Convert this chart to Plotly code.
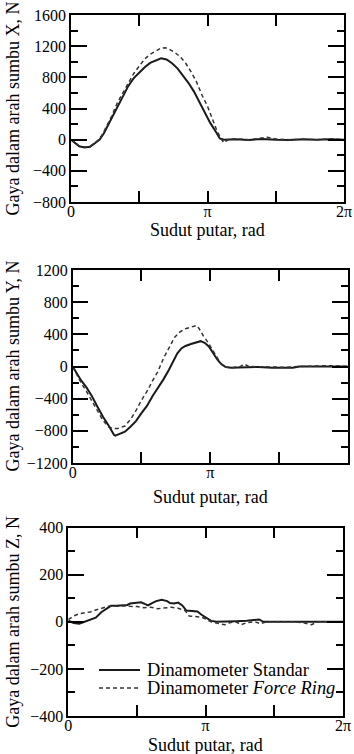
import numpy as np
import plotly.graph_objects as go

PI = np.pi

# ---------- data (theta in units of pi, force in N) ----------
x_std_t = [0, 0.03, 0.06, 0.10, 0.14, 0.18, 0.21, 0.24, 0.27, 0.30, 0.34, 0.38, 0.42, 0.46, 0.50,
           0.54, 0.58, 0.62, 0.66, 0.70, 0.74, 0.78, 0.82, 0.86, 0.90, 0.94, 0.98, 1.02, 1.06,
           1.09, 1.12, 1.2, 1.3, 1.4, 1.5, 1.6, 1.7, 1.8, 1.9, 2.0]
x_std_v = [0, -40, -85, -100, -90, -40, 0, 80, 180, 280, 430, 545, 690, 790, 860,
           930, 985, 1015, 1045, 1030, 980, 915, 830, 730, 620, 480, 335, 215, 105,
           15, 0, 5, -5, 10, 0, -5, 5, 0, 5, 0]

x_fr_t = [0, 0.03, 0.06, 0.10, 0.14, 0.18, 0.21, 0.24, 0.27, 0.30, 0.34, 0.38, 0.42, 0.46, 0.50,
          0.54, 0.58, 0.62, 0.66, 0.69, 0.72, 0.76, 0.80, 0.84, 0.88, 0.92, 0.96, 1.00, 1.04,
          1.07, 1.10, 1.12, 1.15, 1.2, 1.3, 1.4, 1.44, 1.5, 1.6, 1.7, 1.8, 1.9, 2.0]
x_fr_v = [0, -40, -80, -95, -85, -35, 10, 100, 200, 310, 475, 600, 730, 850, 945,
          1035, 1095, 1140, 1175, 1180, 1160, 1120, 1065, 980, 870, 740, 570, 430, 240,
          110, 10, -40, 0, 10, 0, 20, 30, 10, 0, 5, 0, 10, 0]

y_std_t = [0, 0.03, 0.06, 0.10, 0.14, 0.18, 0.22, 0.26, 0.30, 0.31, 0.34, 0.38, 0.42, 0.46, 0.50,
           0.54, 0.58, 0.62, 0.66, 0.70, 0.73, 0.76, 0.79, 0.82, 0.86, 0.90, 0.93, 0.96, 0.99,
           1.02, 1.05, 1.08, 1.11, 1.15, 1.25, 1.35, 1.45, 1.55, 1.6, 1.65, 1.75, 1.85, 1.95, 2.0]
y_std_v = [0, -90, -170, -260, -370, -500, -625, -730, -850, -860, -840, -810, -750, -680, -580,
           -490, -370, -270, -160, -40, 60, 160, 225, 255, 280, 305, 315, 295, 250,
           170, 90, 30, -5, -15, -10, -5, -15, -20, -15, 0, 0, 5, 0, 0]

y_fr_t = [0, 0.03, 0.06, 0.10, 0.14, 0.18, 0.22, 0.26, 0.29, 0.33, 0.38, 0.42, 0.46, 0.50, 0.54,
          0.58, 0.62, 0.66, 0.70, 0.74, 0.78, 0.82, 0.86, 0.90, 0.92, 0.95, 0.98, 1.02, 1.05,
          1.08, 1.11, 1.16, 1.22, 1.25, 1.28, 1.35, 1.45, 1.55, 1.65, 1.75, 1.85, 1.95, 2.0]
y_fr_v = [0, -100, -200, -310, -430, -560, -670, -750, -770, -770, -740, -660, -550, -420, -310,
          -180, -60, 100, 230, 360, 430, 470, 490, 510, 470, 380, 310, 200, 110,
          30, -10, -15, 0, 30, 0, -5, -10, -10, 0, 5, 10, 5, 0]

z_std_t = [0, 0.04, 0.08, 0.12, 0.16, 0.20, 0.24, 0.28, 0.31, 0.35, 0.39, 0.43, 0.45, 0.50, 0.53,
           0.56, 0.58, 0.61, 0.64, 0.68, 0.72, 0.74, 0.77, 0.80, 0.83, 0.86, 0.90, 0.94, 0.97,
           1.00, 1.04, 1.08, 1.15, 1.22, 1.30, 1.36, 1.39, 1.42, 1.5, 1.6, 1.7, 1.8, 1.9, 2.0]
z_std_v = [5, -5, -8, 0, 8, 18, 41, 58, 68, 68, 71, 72, 78, 80, 83,
           75, 70, 80, 88, 94, 88, 80, 78, 82, 70, 48, 45, 44, 30,
           18, 4, 0, 0, 3, 5, 10, 10, 0, 0, 0, 0, 2, 0, 0]

z_fr_t = [0, 0.04, 0.08, 0.12, 0.16, 0.20, 0.25, 0.29, 0.35, 0.40, 0.45, 0.50, 0.55, 0.60, 0.65,
          0.70, 0.75, 0.80, 0.85, 0.88, 0.92, 0.97, 1.00, 1.04, 1.10, 1.14, 1.18, 1.22, 1.26,
          1.30, 1.36, 1.40, 1.44, 1.55, 1.65, 1.72, 1.77, 1.82, 1.9, 2.0]
z_fr_v = [10, 25, 35, 38, 42, 50, 60, 66, 66, 68, 66, 65, 60, 62, 56,
          60, 62, 58, 48, 25, 22, 20, 12, 0, -8, -12, -3, 0, -12,
          -3, 0, -8, 0, 0, 0, -5, -12, 0, 0, 0]

x_tick_vals = [0, 0.5, 1.0, 1.5, 2.0]
x_tick_text = ["0", "", "π", "", "2π"]
y_titles = ["Gaya dalam arah sumbu X, N", "Gaya dalam arah sumbu Y, N", "Gaya dalam arah sumbu Z, N"]
y_ranges = [[-800, 1600], [-1200, 1200], [-400, 400]]
y_dticks = [400, 400, 200]
x_title = "Sudut putar, rad"
legend_names = ["Dinamometer Standar", "Dinamometer <i>Force Ring</i>"]

# ---------- layout geometry ----------
W, H = 354, 754
FONT = "Liberation Serif, Times New Roman, Times, DejaVu Serif, serif"
boxes = [  # left, right, top, bottom in px
    (71, 344, 15, 202),
    (72.7, 347.7, 270, 463),
    (68.3, 343, 527.7, 716),
]
xtitle_y = [230, 497, 745]


def px_x(v):
    return v / W


def px_y(v):
    return 1 - v / H


STD_COLOR = "#1a1a1a"
FR_COLOR = "#333333"
FR_DASH = "4px,3px"

fig = go.Figure()
series = [(x_std_t, x_std_v, x_fr_t, x_fr_v),
          (y_std_t, y_std_v, y_fr_t, y_fr_v),
          (z_std_t, z_std_v, z_fr_t, z_fr_v)]

for i, (st, sv, ft, fv) in enumerate(series):
    xa = "x" if i == 0 else f"x{i+1}"
    ya = "y" if i == 0 else f"y{i+1}"
    fig.add_trace(go.Scatter(x=np.array(st) * PI, y=sv, mode="lines", xaxis=xa, yaxis=ya,
                             line=dict(color=STD_COLOR, width=2), name=legend_names[0],
                             showlegend=False))
    fig.add_trace(go.Scatter(x=np.array(ft) * PI, y=fv, mode="lines", xaxis=xa, yaxis=ya,
                             line=dict(color=FR_COLOR, width=1.5, dash=FR_DASH),
                             name=legend_names[1], showlegend=False))

layout = dict(
    width=W, height=H, margin=dict(l=0, r=0, t=0, b=0),
    paper_bgcolor="white", plot_bgcolor="white",
    font=dict(family=FONT, size=16, color="black"),
    showlegend=False,
)

annotations = []
shapes = []
for i, (l, r, t, b) in enumerate(boxes):
    xk = "xaxis" if i == 0 else f"xaxis{i+1}"
    yk = "yaxis" if i == 0 else f"yaxis{i+1}"
    anchor_x = "y" if i == 0 else f"y{i+1}"
    anchor_y = "x" if i == 0 else f"x{i+1}"
    layout[xk] = dict(
        domain=[px_x(l), px_x(r)], anchor=anchor_x, range=[0, 2 * PI],
        tickvals=[v * PI for v in x_tick_vals], ticktext=x_tick_text,
        ticks="inside", ticklen=11, tickwidth=1.5, tickcolor="black",
        ticklabelstandoff=-6,
        showline=True, linecolor="black", linewidth=1.5, mirror="ticks",
        showgrid=False, zeroline=False, automargin=False,
        tickfont=dict(family=FONT, size=16, color="black"),
    )
    layout[yk] = dict(
        domain=[px_y(b), px_y(t)], anchor=anchor_y, range=y_ranges[i],
        dtick=y_dticks[i], tick0=0,
        ticks="inside", ticklen=16, tickwidth=1.5, tickcolor="black",
        minor=dict(ticks="inside", ticklen=7, dtick=y_dticks[i] / 2, tickwidth=1.5,
                   tickcolor="black", showgrid=False),
        showline=True, linecolor="black", linewidth=1.5, mirror="ticks",
        showgrid=False, zeroline=False, automargin=False,
        tickfont=dict(family=FONT, size=16, color="black"),
    )
    annotations.append(dict(
        text=y_titles[i], xref="paper", yref="paper", x=px_x(13), y=px_y((t + b) / 2),
        xanchor="center", yanchor="middle", textangle=-90, showarrow=False,
        font=dict(family=FONT, size=18, color="black")))
    annotations.append(dict(
        text=x_title, xref="paper", yref="paper", x=px_x((l + r) / 2), y=px_y(xtitle_y[i]),
        xanchor="center", yanchor="middle", showarrow=False,
        font=dict(family=FONT, size=18, color="black")))

# manual legend inside the third panel
leg_rows = [670, 688]
leg_styles = [dict(color=STD_COLOR, width=2), dict(color=FR_COLOR, width=1.5, dash=FR_DASH)]
for row_y, name, style in zip(leg_rows, legend_names, leg_styles):
    shapes.append(dict(type="line", xref="paper", yref="paper",
                       x0=px_x(99), x1=px_x(140), y0=px_y(row_y), y1=px_y(row_y), line=style))
    annotations.append(dict(
        text=name, xref="paper", yref="paper", x=px_x(146), y=px_y(row_y),
        xanchor="left", yanchor="middle", showarrow=False, borderpad=0,
        font=dict(family=FONT, size=18.4, color="black")))

layout["annotations"] = annotations
layout["shapes"] = shapes
fig.update_layout(**layout)
fig.write_html("out.html", config={"displayModeBar": False},
               post_script="document.body.style.margin='0px';document.body.style.padding='0px';")
